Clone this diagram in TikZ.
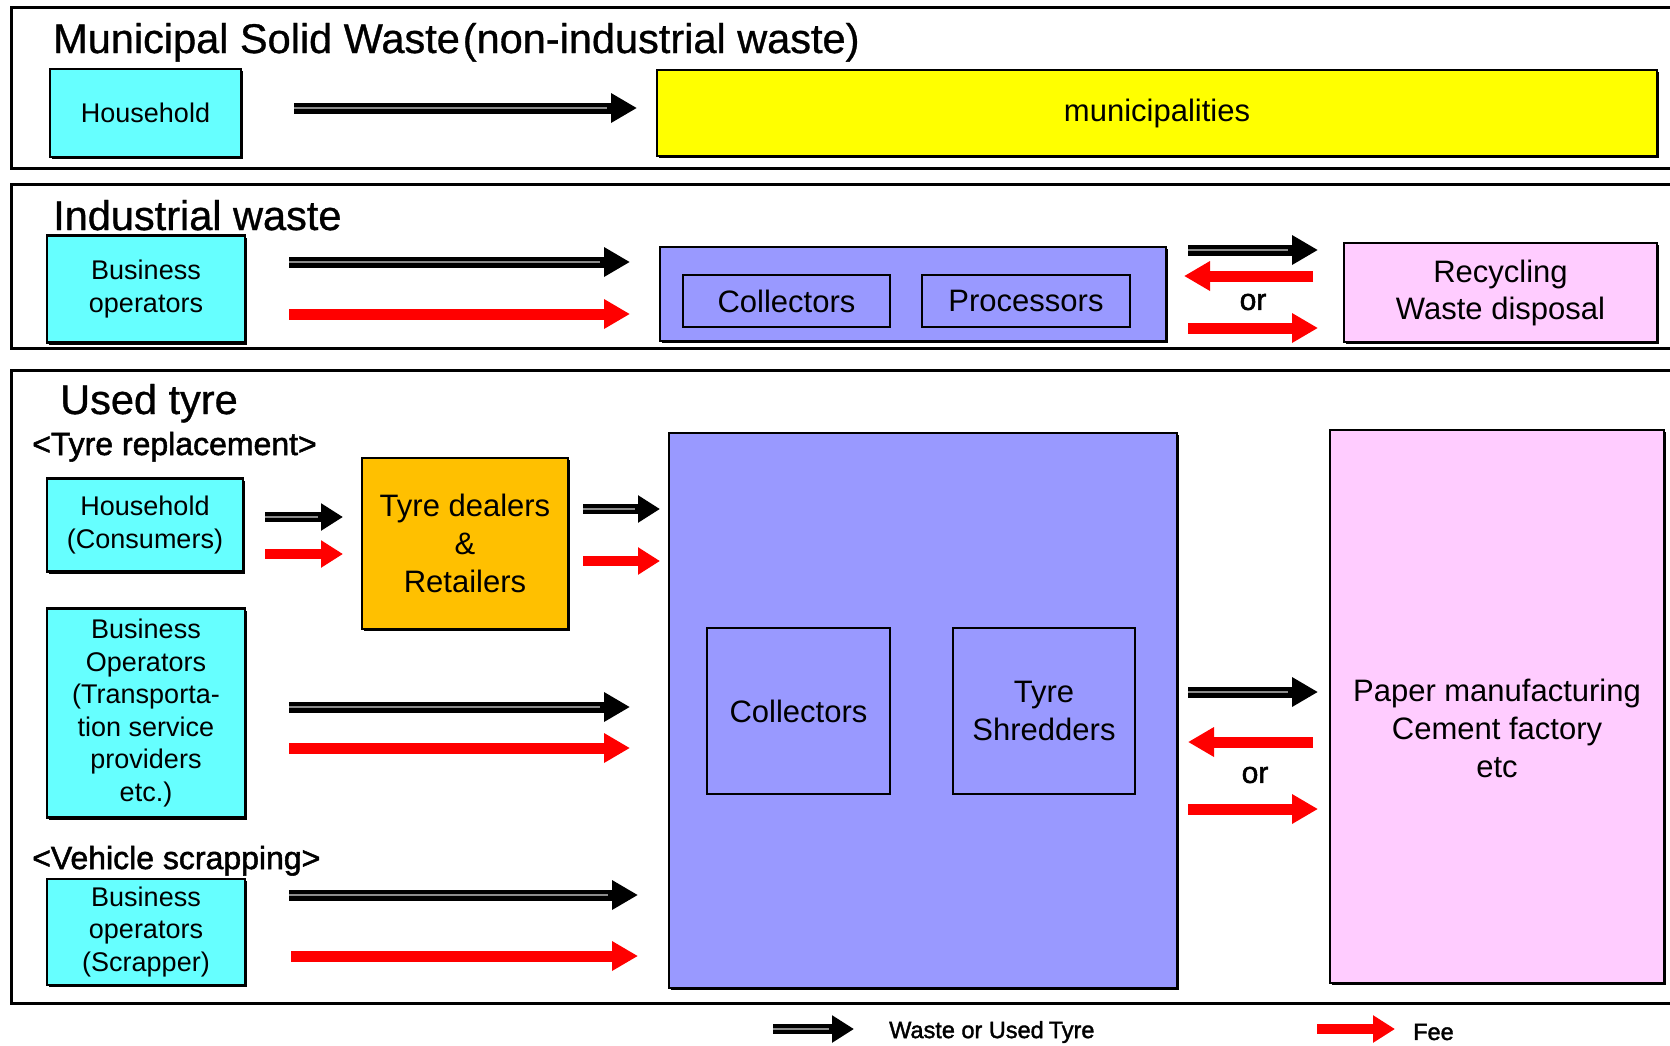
\documentclass[tikz,border=0pt]{standalone}
\usepackage{fontspec}
\setmainfont{Liberation Sans}
\newfontfamily\ttlfont[FakeBold=0.8]{Liberation Sans}
\newfontfamily\hvyfont[FakeBold=1.6]{Liberation Sans}
\usetikzlibrary{arrows.meta,shadows}
\definecolor{cyanb}{HTML}{66FFFF}
\definecolor{yellowb}{HTML}{FFFF00}
\definecolor{blueb}{HTML}{9999FF}
\definecolor{pinkb}{HTML}{FFCCFF}
\definecolor{orangeb}{HTML}{FFC000}
\definecolor{redarr}{HTML}{FF0000}
\begin{document}
\begin{tikzpicture}[x=1pt,y=-1pt]
\tikzset{
  panel/.style={draw=black, line width=3pt},
  box/.style={draw=black, line width=2.5pt, inner sep=0pt, align=center,
    drop shadow={shadow xshift=2pt, shadow yshift=-2pt, fill=black, opacity=1}},
  inbox/.style={draw=black, line width=2pt, inner sep=0pt, align=center},
  cb/.style={box, fill=cyanb, font=\fontsize{27}{32.5}\selectfont},
  ttl/.style={anchor=base west, inner sep=0pt, font=\ttlfont\fontsize{41.5}{41.5}\selectfont},
  sub/.style={anchor=base west, inner sep=0pt, font=\hvyfont\fontsize{32}{32}\selectfont},
  txt/.style={inner sep=0pt, align=center, font=\fontsize{31}{38}\selectfont},
  blk/.style={line width=11pt, black, -{Triangle[length=26pt,width=28pt]},
    postaction={draw, line width=2.2pt, black!45, -, shorten >=30pt}},
  rd/.style={line width=11pt, redarr, -{Triangle[length=26pt,width=28pt]}},
  blks/.style={line width=10pt, black, -{Triangle[length=22pt,width=26pt]},
    postaction={draw, line width=2pt, black!45, -, shorten >=25pt}},
  rds/.style={line width=10pt, redarr, -{Triangle[length=22pt,width=26pt]}},
  ortxt/.style={inner sep=0pt, font=\hvyfont\fontsize{30}{30}\selectfont},
  lgtxt/.style={anchor=west, inner sep=0pt, font=\hvyfont\fontsize{23.5}{23.5}\selectfont},
}
\useasboundingbox (0,0) rectangle (1670,1045);
\fill[white] (0,0) rectangle (1670,1045);
\clip (0,0) rectangle (1670,1045);

% panels
\draw[panel] (11,7) rectangle (1690,168);
\draw[panel] (11,184) rectangle (1690,348);
\draw[panel] (11,370) rectangle (1690,1003);

% ---------- panel 1
\node[ttl] (t1) at (53,53) {Municipal Solid Waste\hspace{3pt}(non-industrial waste)};
\node[cb, minimum width=191pt, minimum height=88pt] (hh1) at (145.5,113) {Household};
\node[box, fill=yellowb, minimum width=1000pt, minimum height=86pt,
  font=\fontsize{31}{31}\selectfont] (mun) at (1157,113) {municipalities};
\coordinate (a1s) at (294,108); \coordinate (a1e) at (637,108);
\draw[blk] (a1s) -- (a1e);

% ---------- panel 2
\node[ttl] (t2) at (53,230) {Industrial waste};
\node[cb, minimum width=198pt, minimum height=107pt] (bo2) at (146,289) {Business\\operators};
\node[box, fill=blueb, minimum width=506pt, minimum height=94pt] (bl2) at (913,294) {};
\node[inbox, minimum width=207pt, minimum height=52pt, font=\fontsize{31}{31}\selectfont] (col2) at (786.5,301) {Collectors};
\node[inbox, minimum width=208pt, minimum height=52pt, font=\fontsize{31}{31}\selectfont] (pro2) at (1026,301) {Processors};
\node[box, fill=pinkb, minimum width=313pt, minimum height=99pt,
  font=\fontsize{31}{37}\selectfont] (rec) at (1500.5,292.5) {Recycling\\Waste disposal};
\coordinate (b1s) at (289,262); \coordinate (b1e) at (630,262);
\coordinate (b2s) at (289,314); \coordinate (b2e) at (630,314);
\draw[blk] (b1s) -- (b1e);
\draw[rd] (b2s) -- (b2e);
\coordinate (c1s) at (1188,250); \coordinate (c1e) at (1318,250);
\coordinate (c2s) at (1313,276); \coordinate (c2e) at (1184,276);
\coordinate (c3s) at (1188,328); \coordinate (c3e) at (1318,328);
\draw[blk] (c1s) -- (c1e);
\draw[rd] (c2s) -- (c2e);
\draw[rd] (c3s) -- (c3e);
\node[ortxt] (or2) at (1253,302) {or};

% ---------- panel 3
\node[ttl] (t3) at (60,414) {Used tyre};
\node[sub] (tr) at (32,455) {<Tyre replacement>};
\node[sub] (vs) at (32,869) {<Vehicle scrapping>};
\node[cb, minimum width=196pt, minimum height=93pt] (hh3) at (145,525) {Household\\(Consumers)};
\node[box, fill=orangeb, minimum width=206pt, minimum height=171pt,
  font=\fontsize{31}{38}\selectfont] (dl) at (465,543.5) {Tyre dealers\\\&\\Retailers};
\node[cb, minimum width=198pt, minimum height=209pt] (bo3) at (146,713)
  {Business\\Operators\\(Transporta-\\tion service\\providers\\etc.)};
\node[cb, minimum width=198pt, minimum height=106pt] (sc) at (146,932)
  {Business\\operators\\(Scrapper)};
\node[box, fill=blueb, minimum width=508pt, minimum height=555pt] (bl3) at (923,710.5) {};
\node[inbox, minimum width=183pt, minimum height=166pt, font=\fontsize{31}{38}\selectfont] (col3) at (798.5,711) {Collectors};
\node[inbox, minimum width=182pt, minimum height=166pt, font=\fontsize{31}{38}\selectfont] (shr) at (1044,711) {Tyre\\Shredders};
\node[box, fill=pinkb, minimum width=334pt, minimum height=553pt] (pap) at (1497,706.5) {};
\node[txt] (papT) at (1497,728) {Paper manufacturing\\Cement factory\\etc};

\coordinate (d1s) at (265,517); \coordinate (d1e) at (343,517);
\coordinate (d2s) at (265,554); \coordinate (d2e) at (343,554);
\draw[blks] (d1s) -- (d1e);
\draw[rds] (d2s) -- (d2e);
\coordinate (e1s) at (583,509); \coordinate (e1e) at (660,509);
\coordinate (e2s) at (583,561); \coordinate (e2e) at (660,561);
\draw[blks] (e1s) -- (e1e);
\draw[rds] (e2s) -- (e2e);
\coordinate (f1s) at (289,707); \coordinate (f1e) at (630,707);
\coordinate (f2s) at (289,748); \coordinate (f2e) at (630,748);
\draw[blk] (f1s) -- (f1e);
\draw[rd] (f2s) -- (f2e);
\coordinate (g1s) at (289,895); \coordinate (g1e) at (638,895);
\coordinate (g2s) at (291,956); \coordinate (g2e) at (638,956);
\draw[blk] (g1s) -- (g1e);
\draw[rd] (g2s) -- (g2e);
\coordinate (h1s) at (1188,692); \coordinate (h1e) at (1318,692);
\coordinate (h2s) at (1313,742); \coordinate (h2e) at (1188,742);
\coordinate (h3s) at (1188,809); \coordinate (h3e) at (1318,809);
\draw[blk] (h1s) -- (h1e);
\draw[rd] (h2s) -- (h2e);
\draw[rd] (h3s) -- (h3e);
\node[ortxt] (or3) at (1255,775) {or};

% ---------- legend
\coordinate (l1s) at (773,1029); \coordinate (l1e) at (854,1029);
\coordinate (l2s) at (1317,1029); \coordinate (l2e) at (1395,1029);
\draw[blks] (l1s) -- (l1e);
\draw[rds] (l2s) -- (l2e);
\node[lgtxt] (lg1) at (889,1032) {Waste or Used\hspace{5pt}Tyre};
\node[lgtxt] (lg2) at (1413,1032) {Fee};
\end{tikzpicture}
\end{document}
